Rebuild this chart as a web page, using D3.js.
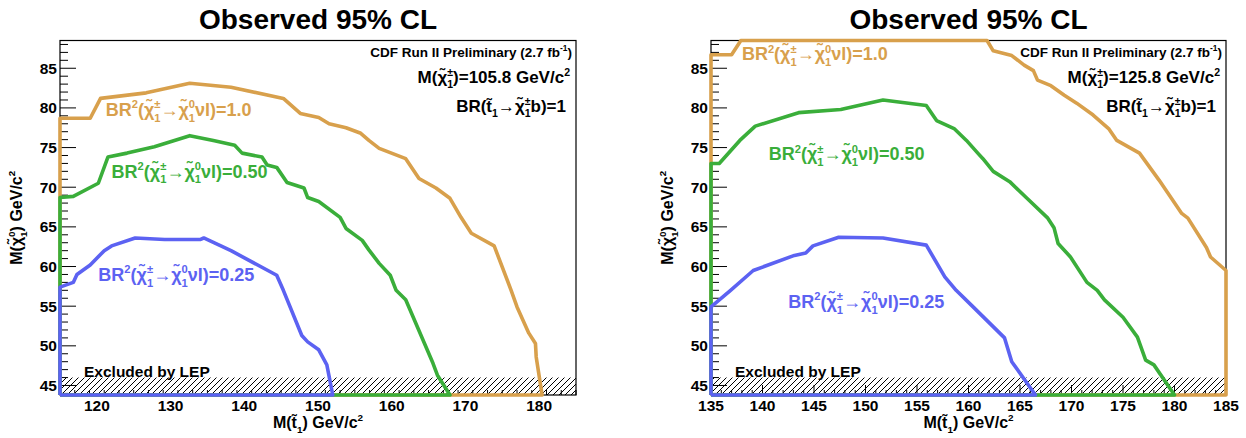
<!DOCTYPE html>
<html>
<head>
<meta charset="utf-8">
<title>Observed 95% CL</title>
<style>
  body {margin: 0; background: #fff;}
  svg {display: block;}
  text {font-family: "Liberation Sans", Arial, Helvetica, sans-serif; font-weight: bold;}
</style>
</head>
<body>
<svg></svg>
<script src="https://d3js.org/d3.v7.min.js"></script>
<script>
// contour points [M(stop), M(neutralino)]
const left100 = [[115,78.7],[119.1,78.7],[120.5,81.2],[126.7,81.9],[132.6,83.1],[138.2,82.6],[145.3,81.2],[147.6,79.3],[150.1,78.8],[151.5,78.0],[153.8,77.5],[155.8,76.8],[156.9,75.9],[158.3,74.9],[161.9,73.6],[163.7,71.1],[166.0,69.9],[167.9,68.6],[169.4,66.2],[170.8,64.2],[173.9,62.6],[176.2,57.0],[177.0,54.9],[178.6,51.6],[179.5,50.3],[179.6,48.6],[180.4,43.8]];
const left050 = [[115,68.7],[116.8,68.85],[120.2,70.5],[121.5,73.8],[124.1,74.3],[127.8,75.1],[132.6,76.5],[135.8,75.9],[138.7,75.3],[139.7,74.3],[142.4,73.8],[143.1,72.8],[144.4,72.5],[145.8,70.6],[148.1,69.9],[148.6,68.7],[150.1,68.2],[153.0,66.2],[153.8,64.8],[156.0,63.3],[156.9,62.1],[158.3,60.4],[159.8,58.9],[160.6,57.0],[161.9,55.8],[165.6,47.8],[166.2,46.3],[167.9,43.8]];
const left025 = [[115,57.4],[116.8,58.0],[117.3,59.0],[119.1,60.2],[121.0,62.0],[122.0,62.6],[125.2,63.6],[129.2,63.4],[134.0,63.4],[134.5,63.6],[138.2,62.0],[144.4,58.9],[145.3,57.0],[147.8,51.3],[148.6,50.5],[150.1,49.5],[151.2,47.6],[152.0,43.8]];

const right100 = [[135,86.7],[137.0,86.7],[137.9,88.5],[161.8,88.5],[162.4,87.2],[164.2,86.6],[165.4,85.4],[166.3,84.7],[166.7,83.5],[168.0,82.8],[169.3,81.6],[170.5,80.6],[172.1,79.1],[173.6,77.4],[174.4,75.9],[176.6,74.3],[178.5,70.9],[180.7,66.7],[181.3,66.1],[183.1,62.4],[183.5,61.2],[185,59.5],[185,43.8]];
const right050 = [[135,73.0],[135.8,73.0],[137.8,75.9],[139.3,77.7],[143.5,79.4],[147.6,79.8],[151.7,81.0],[155.9,80.3],[156.9,78.4],[158.6,77.4],[159.8,75.9],[160.9,74.3],[161.4,73.6],[162.4,72.0],[164.0,70.7],[165.6,68.7],[167.7,66.1],[168.3,64.9],[168.7,62.9],[169.9,61.2],[171.5,58.0],[172.5,57.0],[173.2,55.8],[175.0,53.6],[176.4,51.1],[177.2,48.2],[178.0,47.6],[180.0,43.8]];
const right025 = [[135,54.9],[136.9,57.0],[139.1,59.5],[143.1,61.4],[144.2,61.7],[144.9,62.6],[147.4,63.7],[151.7,63.6],[155.9,62.7],[157.7,58.7],[158.8,57.0],[160.3,55.1],[163.5,51.0],[164.2,48.0],[166.5,43.8]];

const brValues = ["1.0", "0.50", "0.25"];
const charginoMass = ["105.8", "125.8"];
const leftXTicks = [120, 130, 140, 150, 160, 170, 180];
const rightXTicks = [135, 140, 145, 150, 155, 160, 165, 170, 175, 180, 185];
const yTicks = [45, 50, 55, 60, 65, 70, 75, 80, 85];
const lepLimit = 46;

const colors = ["#d8a04c", "#3aae3a", "#5c62f2"];

const W = 1246, H = 438;
const svg = d3.select("svg").attr("width", W).attr("height", H);

const defs = svg.append("defs");
defs.append("pattern")
  .attr("id", "hatch")
  .attr("patternUnits", "userSpaceOnUse")
  .attr("width", 6).attr("height", 6)
  .append("path")
  .attr("d", "M0,6 L6,0 M-1,1 L1,-1 M5,7 L7,5")
  .attr("stroke", "#000").attr("stroke-width", 1);

// text with stacked sup/sub pieces, like ROOT latex
function rich(g, x, y, size, parts, anchor, color) {
  const t = g.append("text").attr("font-size", size).attr("fill", color || "#000");
  let cx = 0;
  parts.forEach(p => {
    if (typeof p === "string") {
      const s = t.append("tspan").attr("x", cx).attr("y", 0).text(p);
      cx += s.node().getComputedTextLength();
    } else {
      let w = 0;
      if (p.sup) {
        const s = t.append("tspan").attr("x", cx).attr("y", -size * 0.42)
          .attr("font-size", size * 0.62).text(p.sup);
        w = Math.max(w, s.node().getComputedTextLength());
      }
      if (p.sub) {
        const s = t.append("tspan").attr("x", cx).attr("y", size * 0.32)
          .attr("font-size", size * 0.62).text(p.sub);
        w = Math.max(w, s.node().getComputedTextLength());
      }
      cx += w;
    }
  });
  const off = anchor === "end" ? x - cx : anchor === "middle" ? x - cx / 2 : x;
  t.attr("transform", `translate(${off},${y})`);
  return t;
}

const chi = "\u03c7\u0303";
const stop = "t\u0303";

const panels = [
  {x0: 60, x1: 576, dom: [115, 185], ticks: leftXTicks, minorStep: 2,
   curves: [left100, left050, left025], mass: charginoMass[0],
   labels: [[121.2, 79.0], [122.0, 71.2], [120.2, 58.2]]},
  {x0: 711, x1: 1226, dom: [135, 185], ticks: rightXTicks, minorStep: 1,
   curves: [right100, right050, right025], mass: charginoMass[1],
   labels: [[138.0, 86.0], [140.6, 73.4], [142.5, 54.8]]}
];

const frameTop = 40.5, frameBottom = 395;

panels.forEach(p => {
  const x = d3.scaleLinear().domain(p.dom).range([p.x0, p.x1]);
  const y = d3.scaleLinear().domain([43.8, 88.5]).range([frameBottom, frameTop]);
  const g = svg.append("g");

  // title
  g.append("text").attr("x", (p.x0 + p.x1) / 2).attr("y", 29)
    .attr("text-anchor", "middle").attr("font-size", 28).text("Observed 95% CL");

  // LEP exclusion band
  g.append("rect")
    .attr("x", x(p.dom[0])).attr("y", y(lepLimit))
    .attr("width", x(p.dom[1]) - x(p.dom[0])).attr("height", y(43.8) - y(lepLimit))
    .attr("fill", "url(#hatch)");

  // frame
  g.append("rect").attr("x", p.x0).attr("y", frameTop)
    .attr("width", p.x1 - p.x0).attr("height", frameBottom - frameTop)
    .attr("fill", "none").attr("stroke", "#000").attr("stroke-width", 1.2);

  // x ticks (inside)
  const minorX = d3.range(p.dom[0], p.dom[1] + 0.01, p.minorStep);
  g.append("g").selectAll("line").data(minorX).join("line")
    .attr("x1", d => x(d)).attr("x2", d => x(d))
    .attr("y1", frameBottom).attr("y2", d => frameBottom - (p.ticks.includes(d) ? 10 : 5))
    .attr("stroke", "#000").attr("stroke-width", 1);
  g.append("g").selectAll("text").data(p.ticks).join("text")
    .attr("x", d => x(d)).attr("y", frameBottom + 16)
    .attr("text-anchor", "middle").attr("font-size", 15.5).text(d => d);

  // y ticks (inside)
  const minorY = d3.range(44, 89, 1);
  g.append("g").selectAll("line").data(minorY).join("line")
    .attr("x1", p.x0).attr("x2", d => p.x0 + (yTicks.includes(d) ? 16 : 8))
    .attr("y1", d => y(d)).attr("y2", d => y(d))
    .attr("stroke", "#000").attr("stroke-width", 1);
  g.append("g").selectAll("text").data(yTicks).join("text")
    .attr("x", p.x0 - 3).attr("y", d => y(d) + 5.5)
    .attr("text-anchor", "end").attr("font-size", 15.5).text(d => d);

  // contours, closed along the left edge and the bottom
  const line = d3.line().x(d => x(d[0])).y(d => y(d[1]));
  p.curves.forEach((c, i) => {
    const pts = [[p.dom[0], 43.8]].concat(c, [[p.dom[0], 43.8]]);
    g.append("path").attr("d", line(pts))
      .attr("fill", "none").attr("stroke", colors[i]).attr("stroke-width", 3.6)
      .attr("stroke-linejoin", "round");
  });

  // curve labels
  p.labels.forEach((l, i) => {
    rich(g, x(l[0]), y(l[1]), 18,
      ["BR", {sup: "2"}, "(" + chi, {sup: "\u00b1", sub: "1"}, "\u2192" + chi, {sup: "0", sub: "1"}, "\u03bdl)=" + brValues[i]],
      "start", colors[i]);
  });

  // info texts
  rich(g, p.x1 - 4, 57, 13.5, ["CDF Run II Preliminary (2.7 fb", {sup: "-1"}, ")"], "end");
  rich(g, p.x1 - 6, 83, 17, ["M(" + chi, {sup: "\u00b1", sub: "1"}, ")=" + p.mass + " GeV/c", {sup: "2"}], "end");
  rich(g, p.x1 - 10, 112, 17, ["BR(" + stop, {sub: "1"}, "\u2192" + chi, {sup: "\u00b1", sub: "1"}, "b)=1"], "end");

  g.append("text").attr("x", p.x0 + 24).attr("y", y(46.1))
    .attr("font-size", 15.5).text("Excluded by LEP");

  // axis titles
  rich(g, (p.x0 + p.x1) / 2, 428, 16, ["M(" + stop, {sub: "1"}, ") GeV/c", {sup: "2"}], "middle");
  const yt = g.append("g").attr("transform", `translate(${p.x0 - 38},${(frameTop + frameBottom) / 2}) rotate(-90)`);
  rich(yt, 0, 0, 16, ["M(" + chi, {sup: "0", sub: "1"}, ") GeV/c", {sup: "2"}], "middle");
});
</script>
</body>
</html>
